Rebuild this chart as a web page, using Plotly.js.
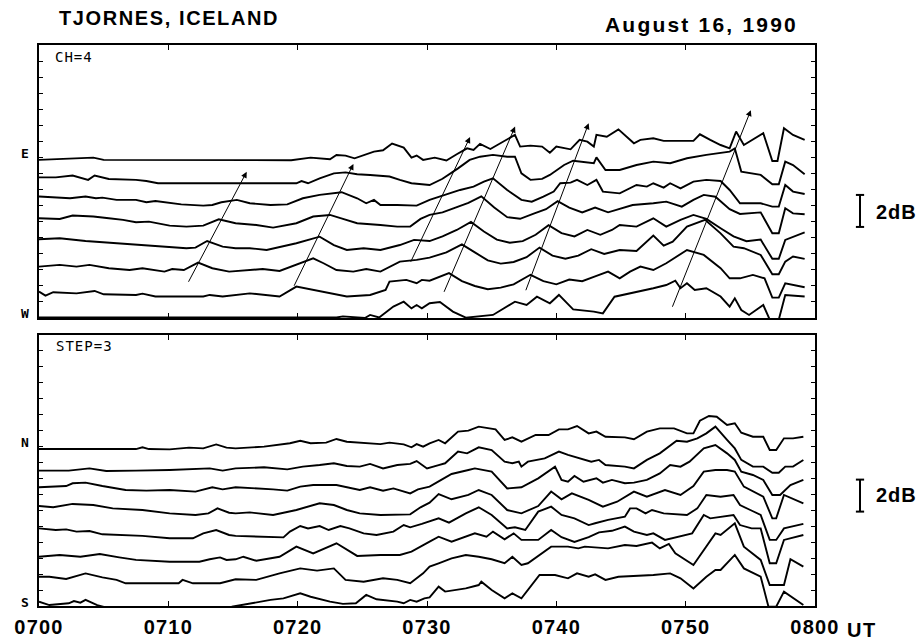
<!DOCTYPE html>
<html><head><meta charset="utf-8">
<script src="https://cdn.plot.ly/plotly-3.0.1.min.js"></script>
<style>html,body{margin:0;padding:0;background:#fff}#chart{width:919px;height:641px}</style>
</head><body><div id="chart"></div>
<script>
// Time in minutes after 0700 UT, level in dB (plot units, 1 tick = 1 dB)
const tickMinutes = [0, 10, 20, 30, 40, 50, 60];
const tickLabels = ['0700', '0710', '0720', '0730', '0740', '0750', '0800'];

// ---- Upper panel (CH=4), E ... W ----
const tA_t = [0,4.2,5,19.5,21,22.5,23,23.7,24.4,25.1,25.9,26.6,27.3,28.2,28.8,29.2,29.7,30.6,31.5,32.3,33.1,33.6,34.1,34.9,35.9,36.8,37.2,38,38.9,39.5,40,41.1,41.8,42.4,42.9,43.1,43.9,44.8,46,46.5,47.5,48.3,50.6,51.1,51.9,52.7,53.4,53.9,54.5,56,56.7,57.1,57.6,58.3,59.2];
const tA_v = [9.88,10.02,9.88,9.86,10.02,9.92,10.19,10.15,9.98,10.19,10.4,10.48,10.9,10.65,10.02,10.15,9.88,10.02,9.84,10.23,10.6,10.5,10.88,10.56,11.02,11.44,10.71,10.77,10.71,10.33,10.71,10.54,11.13,11.02,10.71,11.44,11.33,11.79,10.92,11.13,11.23,11.07,11.07,11.48,11.13,10.81,10.6,11.65,10.81,11.55,9.81,9.81,11.86,11.44,11.13];
const tB_t = [0,1.3,2.6,3.8,4.3,5.4,7.5,8.3,9.2,19.9,20.3,20.8,21.7,22.8,23.7,24.6,25.6,26.4,27.1,27.9,28.8,30.2,31.2,32.4,33.3,34.1,35.1,36.2,36.8,37.3,38,38.9,39.5,40.6,41.3,42.9,43.1,43.8,44.9,46.2,47.5,48.8,50.1,51.6,52.7,53.4,53.8,54.3,55.8,56.7,57.2,57.7,58.3,59.2];
const tB_v = [8.79,8.79,8.9,8.63,8.9,8.69,8.63,8.56,8.42,8.42,8.56,8.42,8.73,9.04,9.1,8.98,8.94,8.9,8.84,8.63,8.42,8.31,8.7,9.35,9.88,10.08,10.19,10.08,10.08,9.04,8.63,8.69,8.94,9.56,9.83,9.67,10.04,9.25,9.25,9.56,9.77,9.67,9.98,10.19,10.29,10.4,10.6,9.15,8.94,8.36,8.36,9.77,9.56,8.98];
const tC_t = [0,1.5,2.4,3.6,4.4,4.9,6,7.5,8.3,9,10.1,11,12.7,13.4,14.1,15.3,16.3,17.9,19.2,20.4,21.7,23.4,24.6,25.3,25.9,26.4,27.7,29.2,30.2,31.4,32.56,33.6,34.4,35.1,36.2,37.3,38.1,39,39.8,40.3,41.1,41.6,42.4,43.1,43.6,44.9,46.2,47,47.5,48.3,48.8,49.6,50.6,51.6,52.7,53.4,54.2,55.8,56.7,57.2,57.7,58.3,59.2];
const tC_v = [7.59,7.52,7.48,7.59,7.48,7.52,7.38,7.38,7.23,7.31,7.17,7.1,7.02,7.06,7.23,7.38,7.17,7.06,7.1,7.48,7.69,7.86,7.48,7.17,7.38,7.06,7.06,7.02,7.38,7.7,8.0,8.21,8.52,8.73,8.0,7.38,7.27,7.58,7.9,8.42,8.46,8.63,8.31,8.63,7.9,7.79,8.31,8.21,8.42,8.15,8.42,8.1,8.52,8.63,8.56,8.0,7.17,7.17,6.96,6.96,8.31,7.9,7.75];
const tD_t = [0,1.6,2.6,4.2,5.4,6.5,7.5,8.5,10.1,11.4,12.7,13.9,15.2,16.8,18.1,19.9,21.2,22.5,23.5,24.6,26.4,27.7,28.7,29.5,30.2,31.2,32.2,33.2,34.2,35.2,36.2,37.2,38.2,39.2,40.1,41,42,43,44,44.9,45.9,47.5,48.5,49.7,50.6,51.4,52.3,53.4,54.2,55.8,56.7,57.2,57.7,58.3,59.2];
const tD_v = [6.23,6.19,6.4,6.34,6.23,6.13,5.98,6.02,5.77,5.71,5.77,6.17,5.92,5.81,5.65,5.92,6.34,6.44,6.19,5.92,5.81,5.71,5.71,6.19,6.44,6.6,6.9,7.2,7.6,6.9,6.3,6.2,6.5,6.8,7.3,6.9,6.6,6.9,6.6,6.81,7.06,7.17,7.27,6.96,7.38,7.69,7.58,6.8,6.5,6.6,5.3,5.3,6.86,6.54,6.48];
const tE_t = [0,1.6,3.6,6.2,7.5,9.6,11.4,12.1,13,14.2,15.2,16.3,17.6,19.9,21.7,22.8,23.8,25.1,26.4,27.9,29,30.2,31.2,32.3,33.4,34.4,35.4,36.4,37.4,38.4,39.4,40.4,41.4,42.4,43.4,44.3,44.9,46.2,47.5,48.5,49.6,50.6,51.6,52.7,53.7,54.7,55.8,56.7,57.2,57.7,58.3,59.2];
const tE_v = [4.92,4.98,4.81,4.67,4.61,4.46,4.36,4.4,4.81,4.46,4.36,4.36,4.25,4.67,5.08,4.56,4.25,4.36,4.25,4.56,4.88,4.81,5.1,5.5,6.0,5.4,4.9,4.7,4.8,5.2,5.8,5.3,5.1,5.5,5.2,5.5,5.81,5.71,6.23,5.71,6.13,6.44,6.19,5.61,5.1,4.8,4.9,3.7,3.7,4.88,5.08,5.35];
const tF_t = [0,1.6,2.9,3.9,5.4,7,8,9.7,10.3,11.2,12.3,13.4,14.7,17.3,18.6,19.9,21.2,22,23,24.3,25.3,26.4,27.9,29.2,30.2,31.5,32.7,33.7,34.7,35.7,36.7,37.7,38.7,39.7,40.7,41.7,42.7,43.7,44.9,46.2,47.5,48.3,49,50.1,51.5,52.7,53.7,54.5,55.8,56.7,57.2,57.7,58.3,59.2];
const tF_v = [3.21,3.32,3.21,3.32,3.11,3.0,3.11,2.9,3.06,3.0,3.46,3.11,2.9,3.06,2.94,3.32,3.73,3.42,3.0,2.9,3.06,2.9,3.52,3.63,3.77,4.1,4.6,4.1,3.6,3.4,3.5,3.8,4.4,3.9,3.7,3.9,4.3,4.0,4.25,4.19,5.15,4.52,4.77,5.71,6.13,5.29,4.46,4.36,3.94,2.73,2.73,3.52,3.84,3.69];
const tG_t = [0,0.5,1.1,2.9,4.3,5,7.5,8,9,12.7,13.2,14.2,16.3,17.3,18.6,19.9,21.2,22.5,23.8,25.6,26.8,27.1,28.4,29.2,29.6,30.2,31.7,32.7,33.7,34.7,35.7,36.7,38,39,40,41,42,43,44,44.9,45.7,46.5,47.5,48.5,50.1,51.4,52.7,53.4,54.2,55.2,56.1,56.7,57.2,57.7,59.2];
const tG_v = [1.65,1.4,1.61,1.54,1.69,1.48,1.44,1.52,1.34,1.34,1.44,1.34,1.54,1.44,1.34,1.96,1.75,1.54,1.34,1.44,1.75,2.27,2.38,2.17,2.38,2.33,2.8,2.3,2.0,1.8,1.9,2.1,2.7,2.3,2.1,2.4,2.3,2.6,2.9,2.48,2.9,3.21,3.0,3.42,4.25,3.94,3.11,2.48,2.48,2.69,2.48,1.27,1.27,2.17,1.92];
const tH_t = [0,23,23.5,25.2,25.6,26.3,27.4,28.2,28.8,29.2,29.6,30.2,31,32,33,35.1,36.8,37.7,38.5,39.5,40.2,41.3,42.9,43.6,44.5,44.9,46.5,47.5,48.5,49.2,49.6,50.1,50.7,51.6,52.7,53.4,53.8,54.3,54.9,56,56.5,57.2,57.7,59.2];
const tH_v = [0.03,0.03,0.1,0.0,0.19,0.03,0.71,1.02,0.6,0.81,0.6,0.92,1.0,0.4,0.02,0.19,1.02,0.81,1.33,0.92,1.44,0.54,0.4,0.29,1.33,1.4,1.65,1.86,2.06,2.33,1.86,2.17,1.75,1.86,1.34,0.71,1.23,0.5,0.19,0.81,-0.1,-0.1,1.44,1.34];

// ---- Lower panel (STEP=3), N ... S ----
const bA_t = [0,7.5,8,8.5,10.1,11.6,12.7,13.7,14.5,15.2,17.4,19.4,20.2,21,22.2,23,23.8,24.6,25.6,26.4,27.1,28.2,28.8,29.2,29.7,30.2,30.9,31.4,32.4,33.2,34,34.7,35.3,36,36.6,37.3,38.4,39.4,40.2,40.9,41.6,42.5,43.1,43.8,45.3,46,47,48,49.1,50.1,50.6,51.1,51.8,52.4,53.2,53.8,54.3,55.2,56,56.5,57,57.6,58.3,59.1];
const bA_v = [9.81,9.81,9.92,9.81,9.79,9.9,9.85,10.1,9.9,9.85,9.96,10.17,10.33,10.17,10.21,10.44,10.27,10.21,10.17,10.12,10.21,10.1,9.92,10.12,9.96,10.17,10.38,10.17,10.9,10.96,11.21,11.1,11.04,10.38,10.54,10.27,10.69,10.69,11.04,11.04,11.25,10.79,10.9,10.58,10.54,10.42,10.9,11.1,11.1,10.79,10.79,11.58,11.88,11.83,11.31,11.42,10.83,10.58,10.58,9.75,9.75,10.48,10.48,10.58];
const bB_t = [0,2.3,3.9,5.2,7.5,10.1,13.2,14.2,15.2,17.4,19.2,20.4,21.7,22.8,23.8,24.8,25.6,26.6,27.7,28.7,29.2,30,30.9,31.4,32.4,33.1,34,35,36,36.6,37.1,37.3,37.8,39.1,40.2,40.9,42.7,43.3,43.8,45.3,46,47,48,49.3,50.1,50.9,51.6,52.3,53.2,53.8,54.3,55.2,56,56.7,57.2,57.7,58.3,59.1];
const bB_v = [8.46,8.46,8.6,8.44,8.46,8.5,8.6,8.46,8.6,8.67,8.54,8.71,8.81,8.92,8.75,8.71,8.88,8.6,8.81,8.88,9.06,8.6,8.81,8.92,9.65,9.54,9.92,9.75,9.02,8.92,9.02,8.71,9.02,9.23,9.65,9.44,9.02,9.13,8.81,8.71,8.6,9.13,9.54,10.33,10.27,10.48,10.79,11.21,10.38,9.85,9.13,8.71,8.71,8.33,8.33,8.71,8.71,9.13];
const bC_t = [0,2.1,2.6,3.6,4.9,6.7,8.3,10.1,12.1,13.4,14.2,15.2,18.1,19.2,20.2,21.2,23,24.1,24.8,25.6,26.6,27.4,28.7,29.3,30.2,31.1,31.9,33.2,33.7,35,36.2,37.3,38.6,39.9,40.4,40.9,41.4,42.1,43.1,43.6,44.3,45.3,46,47,48,48.8,49.6,50.3,51.4,52.3,53.2,53.8,54.3,55.2,56,56.7,57.3,58.1,59.1];
const bC_v = [7.42,7.5,7.67,7.71,7.5,7.25,7.21,7.25,7.15,7.42,7.29,7.42,7.29,7.21,7.46,7.56,7.56,7.35,7.25,7.42,7.21,7.35,7.04,7.29,7.46,7.88,8.25,8.5,8.6,8.4,7.35,7.42,7.98,8.71,7.88,7.77,8.13,7.77,7.98,7.71,7.88,7.67,7.71,7.88,8.29,8.81,8.71,9.02,9.85,10.06,9.54,9.13,8.4,8.19,7.88,6.94,6.94,7.56,7.88];
const bD_t = [0,1.1,2.6,4.2,5.7,8,10.1,12.1,13.1,13.8,14.7,15.2,16.3,18.1,19.9,21.7,22.8,23.8,24.8,26.4,28.7,29.5,30.2,30.9,31.9,33.2,34,35,36.2,37.3,38.6,39.6,40.4,41.2,42.5,43.6,44.7,45.3,46,47,48.4,49.6,50.6,51.4,52.3,53.2,53.8,54.5,56,56.7,57,57.6,59.1];
const bD_v = [6.25,6.17,6.38,6.31,6.1,6.0,5.79,5.69,5.79,6.1,5.83,5.79,5.85,5.69,6.0,6.42,6.31,6.0,5.79,5.69,5.73,6.17,6.46,7.0,6.67,6.94,7.25,6.94,6.0,5.79,6.25,7.15,6.67,7.04,6.63,6.21,6.52,6.83,7.15,6.83,7.25,6.94,7.5,8.4,8.5,8.5,8.4,7.46,6.83,5.48,5.48,6.94,6.42];
const bE_t = [0,1.3,2.1,2.9,3.9,4.9,8,10.1,11.9,12.7,13.7,14.7,15.2,16.8,18.9,19.4,20.2,20.8,21.7,22.4,23.3,24,25.1,26.1,27.4,28.2,28.7,29.6,30.2,30.9,31.7,33,34,35,36.2,36.8,37.6,38.6,39.6,40.4,41.4,42.5,43,44,45.3,45.7,46.2,46.9,47.4,48.3,50.1,50.9,51.6,52.7,53.7,54.2,55,55.8,56.5,57,57.6,59.1];
const bE_v = [4.85,4.75,4.79,4.65,4.69,4.48,4.38,4.23,4.23,4.54,4.75,4.44,4.38,4.33,4.29,4.65,5.0,4.85,5.0,4.75,5.0,4.85,4.54,4.44,4.65,5.06,4.92,5.13,5.27,5.48,5.21,5.79,6.17,5.69,4.85,4.92,4.75,5.9,6.21,5.69,5.48,5.06,5.17,5.38,5.58,6.1,6.1,5.79,6.0,5.79,5.69,6.1,6.94,6.83,6.94,6.31,6.0,5.69,4.13,4.13,4.85,5.13];
const bF_t = [0,1.6,3.2,4.7,6.2,7.5,10.1,12.4,13.2,14,14.5,15.2,15.8,16.8,18.6,19.9,21.2,23,24.6,26.4,27.9,28.8,30.2,30.9,31.9,33.7,34.6,35.1,36,36.7,37.3,38.6,39.6,40.4,41.4,42.5,43.3,44.3,45.3,46,47,47.5,48.4,49.4,50.5,51.4,51.9,53.7,54.2,55.1,55.8,56.5,57,57.6,59.1];
const bF_v = [3.08,3.19,3.08,3.25,3.04,2.88,2.77,2.77,2.92,3.04,2.88,2.92,3.08,2.83,3.08,3.71,3.29,3.92,3.13,3.19,3.19,3.4,4.02,4.33,4.02,4.54,4.33,4.65,4.17,4.54,4.13,4.13,4.75,4.3,4.0,4.3,4.6,4.7,4.96,4.65,4.44,4.54,4.13,4.33,4.54,5.69,5.48,5.69,5.06,4.85,4.85,2.67,2.67,4.13,4.44];
const bG_t = [0,0.8,2.1,3.6,4.9,6,6.7,10.8,11.1,11.9,14,15.2,16.8,18.6,20.2,21.5,22.8,23.7,25.1,26.6,27.7,28.7,29.7,30.2,30.9,31.9,33,34,35,36,36.6,37.3,37.8,38.9,39.6,40.9,41.7,42.2,44,45.3,46.2,47.4,48,48.7,49.2,50.6,51.6,52.3,52.7,53.8,54.5,55.8,56.5,57.6,58.1,59.1];
const bG_v = [1.83,1.83,1.69,2.04,1.79,1.63,1.42,1.42,1.63,1.42,1.42,1.67,1.63,2.04,2.35,2.21,2.35,1.63,1.52,1.73,1.63,1.42,2.04,2.46,2.67,2.98,3.19,3.08,2.92,2.67,3.08,2.56,2.67,3.29,3.71,3.71,3.6,3.71,3.6,3.81,3.75,3.96,3.6,3.88,3.29,2.56,3.71,4.54,4.44,5.17,3.71,2.88,1.31,1.31,2.92,2.46];
const bH_t = [0,0.8,2.3,2.7,3.2,3.6,4.5,5.2,14.9,16.3,17.9,18.9,20.2,21,22.5,23.5,24.5,25.3,26.1,27.7,28.2,28.7,29.2,29.8,30.2,30.9,31.4,33,34,34.2,35,36,36.6,37.3,38.7,39.9,40.9,41.6,42.5,43,43.8,44.8,47.5,48.8,49.6,50.6,51.6,52.3,52.7,53.8,54.5,55.8,56.4,57,57.6,59.1];
const bH_v = [0.27,0.06,0.17,0.31,0.21,0.38,0.06,-0.1,-0.05,0.17,0.38,0.48,0.79,0.58,0.27,0.13,0.17,0.69,0.42,0.27,0.17,0.38,0.27,0.48,0.54,1.21,0.9,1.1,1.31,1.52,1.0,0.48,0.79,0.48,1.94,1.94,1.73,2.04,1.83,1.98,1.63,1.83,1.94,2.04,1.73,1.1,1.83,2.25,2.25,3.19,2.35,1.83,-0.04,-0.04,0.9,0.06];

// Arrows in upper panel (tail -> head), minutes and dB
const arrowTail_t = [11.5, 19.67, 28.69, 31.27, 37.6, 48.93];
const arrowTail_v = [2.17, 1.92, 3.42, 1.54, 1.64, 0.61];
const arrowHead_t = [16.06, 24.31, 33.33, 36.81, 42.5, 55.04];
const arrowHead_v = [9.14, 9.63, 11.31, 11.96, 12.17, 12.99];

const topSeries = [[tA_t,tA_v],[tB_t,tB_v],[tC_t,tC_v],[tD_t,tD_v],[tE_t,tE_v],[tF_t,tF_v],[tG_t,tG_v],[tH_t,tH_v]];
const botSeries = [[bA_t,bA_v],[bB_t,bB_v],[bC_t,bC_v],[bD_t,bD_v],[bE_t,bE_v],[bF_t,bF_v],[bG_t,bG_v],[bH_t,bH_v]];

const traces = [];
const lineStyle = {color:'#000', width:1.9, shape:'linear'};
topSeries.forEach(s => traces.push({x:s[0], y:s[1], xaxis:'x2', yaxis:'y2', type:'scatter', mode:'lines', line:lineStyle, hoverinfo:'skip', showlegend:false}));
botSeries.forEach(s => traces.push({x:s[0], y:s[1], xaxis:'x', yaxis:'y', type:'scatter', mode:'lines', line:lineStyle, hoverinfo:'skip', showlegend:false}));

const boldFont = {family:'Liberation Sans, Arial, sans-serif', color:'#000', weight:'bold'};
const monoFont = {family:'DejaVu Sans Mono, monospace', color:'#000'};
const dbTicks = [1,2,3,4,5,6,7,8,9,10,11,12,13,14,15,16];
const spaced = (s, px) => '<span style="letter-spacing:' + px + 'px">' + s + '</span>';

const ann = [
  {xref:'paper', yref:'paper', x:0.0232, y:1.048, xanchor:'left', yanchor:'middle', text:spaced('TJORNES, ICELAND', 1.6), showarrow:false, font:Object.assign({size:20}, boldFont)},
  {xref:'paper', yref:'paper', x:0.9807, y:1.0357, xanchor:'right', yanchor:'middle', text:spaced('August 16, 1990', 2.2), showarrow:false, font:Object.assign({size:21}, boldFont)},
  {xref:'paper', yref:'paper', x:1.0606, y:-0.0428, xanchor:'center', yanchor:'middle', text:spaced('UT', 1.5), showarrow:false, font:Object.assign({size:20}, boldFont)},
  {xref:'paper', yref:'y2', x:0.0185, y:16.3, xanchor:'left', yanchor:'middle', text:spaced('CH=4', 1), showarrow:false, font:Object.assign({size:14}, monoFont)},
  {xref:'paper', yref:'y', x:0.0193, y:16.25, xanchor:'left', yanchor:'middle', text:spaced('STEP=3', 1), showarrow:false, font:Object.assign({size:14}, monoFont)},
  {xref:'paper', yref:'y2', x:-0.018, y:10.3, xanchor:'center', yanchor:'middle', text:'E', showarrow:false, font:Object.assign({size:13, weight:'bold'}, monoFont)},
  {xref:'paper', yref:'y2', x:-0.018, y:0.25, xanchor:'center', yanchor:'middle', text:'W', showarrow:false, font:Object.assign({size:13, weight:'bold'}, monoFont)},
  {xref:'paper', yref:'y', x:-0.018, y:10.25, xanchor:'center', yanchor:'middle', text:'N', showarrow:false, font:Object.assign({size:13, weight:'bold'}, monoFont)},
  {xref:'paper', yref:'y', x:-0.018, y:0.25, xanchor:'center', yanchor:'middle', text:'S', showarrow:false, font:Object.assign({size:13, weight:'bold'}, monoFont)},
  {xref:'paper', yref:'y2', x:1.076, y:6.63, xanchor:'left', yanchor:'middle', text:spaced('2dB', 1), showarrow:false, font:Object.assign({size:20}, boldFont)},
  {xref:'paper', yref:'y', x:1.076, y:6.94, xanchor:'left', yanchor:'middle', text:spaced('2dB', 1), showarrow:false, font:Object.assign({size:20}, boldFont)}
];
for (let i = 0; i < arrowHead_t.length; i++) {
  ann.push({xref:'x2', yref:'y2', axref:'x2', ayref:'y2', x:arrowHead_t[i], y:arrowHead_v[i], ax:arrowTail_t[i], ay:arrowTail_v[i],
    text:'', showarrow:true, arrowhead:2, arrowsize:1.2, arrowwidth:1, arrowcolor:'#000', standoff:0, startstandoff:0});
}

// 2 dB scale bars
const barLo = [5.69, 5.9];
const shapes = [];
[['y2', barLo[0]], ['y', barLo[1]]].forEach(([yr, lo]) => {
  shapes.push({type:'line', xref:'paper', yref:yr, x0:1.058, x1:1.058, y0:lo, y1:lo+2, line:{color:'#000', width:2}});
  shapes.push({type:'line', xref:'paper', yref:yr, x0:1.0527, x1:1.0633, y0:lo, y1:lo, line:{color:'#000', width:2}});
  shapes.push({type:'line', xref:'paper', yref:yr, x0:1.0527, x1:1.0633, y0:lo+2, y1:lo+2, line:{color:'#000', width:2}});
});

const axCommon = {showline:true, linecolor:'#000', linewidth:1.6, mirror:'ticks', ticks:'inside', tickcolor:'#000', tickwidth:1, showgrid:false, zeroline:false, fixedrange:true};
const layout = {
  width:919, height:641,
  margin:{l:39, r:104, t:45, b:35},
  paper_bgcolor:'#fff', plot_bgcolor:'#fff',
  showlegend:false,
  xaxis: Object.assign({}, axCommon, {domain:[0,1], anchor:'y', range:[0,60], tickvals:tickMinutes, ticktext:tickLabels.map(s => spaced(s, 1.2)), ticklen:5, tickfont:Object.assign({size:20}, boldFont), ticklabelstandoff:2}),
  xaxis2: Object.assign({}, axCommon, {domain:[0,1], anchor:'y2', matches:'x', range:[0,60], tickvals:tickMinutes, ticklen:5, showticklabels:false}),
  yaxis: Object.assign({}, axCommon, {domain:[0,0.4831], anchor:'x', range:[0,16.94], tickvals:dbTicks, ticklen:4, showticklabels:false}),
  yaxis2: Object.assign({}, axCommon, {domain:[0.5134,1], anchor:'x2', range:[0,17.06], tickvals:dbTicks, ticklen:4, showticklabels:false}),
  annotations: ann,
  shapes: shapes
};
Plotly.newPlot('chart', traces, layout, {displayModeBar:false, staticPlot:true});
</script>
</body></html>
